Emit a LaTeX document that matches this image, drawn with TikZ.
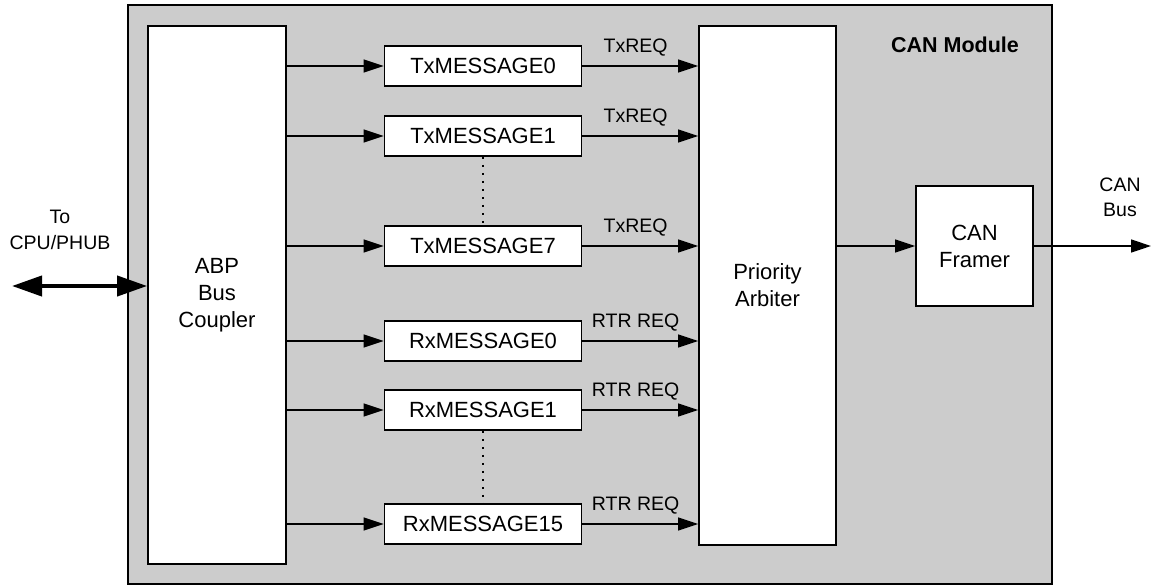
\documentclass[tikz,border=0pt]{standalone}
\usepackage{fontspec}
\setmainfont{Liberation Sans}
\usetikzlibrary{arrows.meta}
\definecolor{modgray}{RGB}{204,204,204}
\begin{document}
\begin{tikzpicture}[x=1pt,y=-1pt,
  blk/.style={draw=black,fill=white,line width=1.8pt,inner sep=0pt,align=center,
    font=\fontsize{22}{27}\selectfont},
  msg/.style={blk,minimum width=197pt,minimum height=40pt},
  conn/.style={line width=1.4pt,-{Triangle[length=20pt,width=13pt]}},
  lbl/.style={font=\fontsize{19.5}{24}\selectfont,inner sep=0pt}]
\useasboundingbox (0,0) rectangle (1154,584);
\fill[white] (0,0) rectangle (1154,584);
\draw[fill=modgray,line width=1.6pt] (128,5) rectangle (1052,584);
\node[font=\bfseries\fontsize{21.5}{26}\selectfont] (title) at (955,45) {CAN Module};

\node[blk,minimum width=138pt,minimum height=538pt] (abp) at (217,295) {ABP\\Bus\\Coupler};
\node[blk,minimum width=137pt,minimum height=519pt] (arb) at (767.5,285.5) {Priority\\Arbiter};
\node[blk,minimum width=117pt,minimum height=120pt] (frm) at (974.5,246) {CAN\\Framer};

\node[msg] (tx0) at (483,66) {TxMESSAGE0};
\node[msg] (tx1) at (483,136) {TxMESSAGE1};
\node[msg] (tx7) at (483,246) {TxMESSAGE7};
\node[msg] (rx0) at (483,341) {RxMESSAGE0};
\node[msg] (rx1) at (483,410) {RxMESSAGE1};
\node[msg] (rx15) at (483,524) {RxMESSAGE15};

\foreach \m in {tx0,tx1,tx7,rx0,rx1,rx15}{
  \draw[conn] (abp.east |- \m.west) -- (\m.west);
}
\foreach \m/\t in {tx0/TxREQ,tx1/TxREQ,tx7/TxREQ,rx0/RTR REQ,rx1/RTR REQ,rx15/RTR REQ}{
  \draw[conn] (\m.east) -- node[lbl,above=9pt,pos=0.46] {\t} (\m.east -| arb.west);
}

\draw[line width=1.4pt,dash pattern=on 1.6pt off 6.4pt] (tx1.south) -- (tx7.north);
\draw[line width=1.4pt,dash pattern=on 1.6pt off 6.4pt] (rx1.south) -- (rx15.north);

\draw[conn] (arb.east |- frm.west) -- (frm.west);
\coordinate (busend) at (1151,246);
\draw[conn] (frm.east) -- (busend);
\node[lbl,align=center,font=\fontsize{19.5}{25}\selectfont] (buslbl) at (1120,197) {CAN\\Bus};

\coordinate (cpu) at (12,286);
\draw[line width=4pt,{Triangle[length=30pt,width=20pt]}-{Triangle[length=30pt,width=20pt]}] (cpu) -- (cpu -| abp.west);
\node[lbl,align=center,font=\fontsize{19.5}{26}\selectfont] (cpulbl) at (60,230) {To\\CPU/PHUB};
\end{tikzpicture}
\end{document}
